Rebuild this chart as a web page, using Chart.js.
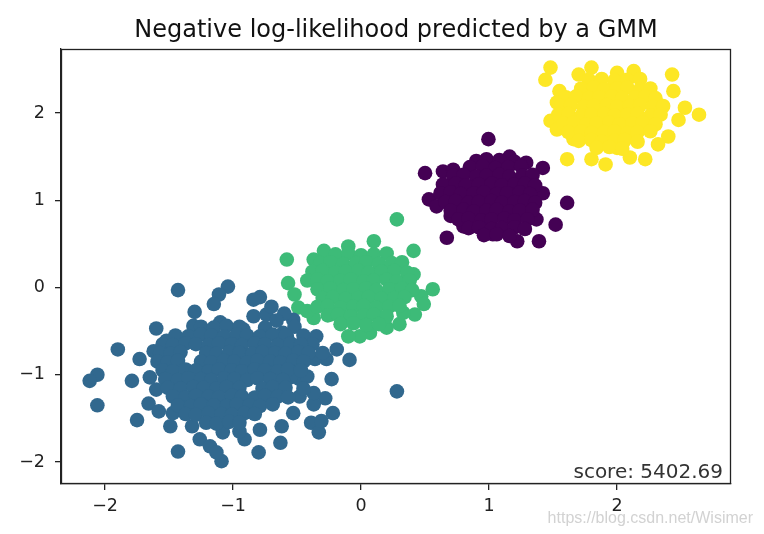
<!DOCTYPE html>
<html>
<head>
<meta charset="utf-8">
<script src="https://cdn.jsdelivr.net/npm/chart.js@4"></script>
<style>
  html, body { margin: 0; padding: 0; background: #fff; }
  #wrap { width: 764px; height: 534px; }
</style>
</head>
<body>
<div id="wrap"><canvas id="scatterChart" width="764" height="534"></canvas></div>
<script>
// values (x, y pairs per GMM component)
// outer points first, then the packed core of each blob row by row
const blueX = [-1.43, -1.04, -1.11, -1.15, -0.79, -0.84, -1.30, -0.74, -0.84, -1.60, -1.31, -1.10, -0.92, -0.61, -1.90, -1.73, -1.62, -1.52, -2.06, -2.12, -2.06, -1.79, -1.65, -1.75, -1.66, -1.58, -1.60, -1.49, -1.43, -1.32, -1.26, -1.18, -1.09, -1.13, -1.08, -0.91, -0.95, -0.80, -0.79, -0.63, -0.62, -0.53, -0.39, -0.33, -0.31, -0.22, -0.28, -0.37, -0.37, -0.48, -0.23, -0.09, -0.19, -0.27, -0.36, -0.42, -0.35, -0.58, -0.53, -0.48, -0.55, -0.42, -1.10, -1.17, -1.28, -1.47, -1.41, 0.28,
  -0.60, -0.52, -0.45, -0.38, -0.55, -0.30, -0.66, -0.70,
  -1.25, -1.15, -1.05, -0.95, -0.75,
  -1.45, -1.35, -1.25, -1.17, -1.07, -0.97, -0.89, -0.79, -0.69, -0.59,
  -1.55, -1.47, -1.37, -1.29, -1.19, -1.11, -1.01, -0.93, -0.83, -0.75, -0.65, -0.55, -0.47,
  -1.57, -1.49, -1.41, -1.21, -1.13, -1.03, -0.95, -0.85, -0.77, -0.67, -0.59, -0.49, -0.41,
  -1.59, -1.51, -1.43, -1.25, -1.17, -1.07, -0.99, -0.89, -0.81, -0.71, -0.63, -0.53, -0.45,
  -1.55, -1.47, -1.37, -1.29, -1.19, -1.11, -1.01, -0.93, -0.83, -0.75, -0.65, -0.57, -0.47,
  -1.53, -1.43, -1.35, -1.25, -1.17, -1.07, -0.99, -0.89, -0.81, -0.71, -0.61,
  -1.51, -1.41, -1.31, -1.23, -1.13, -1.05, -0.95, -0.77, -0.69, -0.59, -0.45,
  -1.47, -1.37, -1.29, -1.19, -1.11, -1.01, -0.93, -0.83, -0.75, -0.65, -0.57,
  -1.43, -1.33, -1.25, -1.15, -1.05, -0.97, -0.87, -0.79, -0.69,
  -1.37, -1.29, -1.19, -1.09, -1.01, -0.91, -0.83,
  -1.21, -1.13, -1.03, -0.95];
const blueY = [-0.03, 0.01, -0.08, -0.19, -0.11, -0.14, -0.28, -0.31, -0.33, -0.47, -0.44, -0.40, -0.48, -0.52, -0.71, -0.82, -0.73, -0.61, -1.00, -1.07, -1.35, -1.07, -1.03, -1.52, -1.33, -1.42, -1.17, -1.59, -1.88, -1.59, -1.74, -1.82, -1.99, -1.89, -1.66, -1.74, -1.65, -1.89, -1.63, -1.78, -1.59, -1.44, -1.55, -1.66, -1.53, -1.44, -1.27, -1.34, -1.21, -1.25, -1.05, -0.83, -0.71, -0.82, -0.82, -0.60, -0.56, -0.56, -0.37, -1.05, -1.03, -1.02, -1.51, -1.49, -1.36, -1.44, -1.34, -1.19,
  -0.30, -0.45, -0.55, -0.65, -0.65, -0.75, -0.38, -0.22,
  -0.45, -0.46, -0.44, -0.45, -0.46,
  -0.55, -0.56, -0.54, -0.55, -0.56, -0.54, -0.55, -0.56, -0.54, -0.55,
  -0.65, -0.66, -0.64, -0.65, -0.66, -0.64, -0.65, -0.66, -0.64, -0.65, -0.66, -0.64, -0.65,
  -0.75, -0.76, -0.74, -0.75, -0.76, -0.74, -0.75, -0.76, -0.74, -0.75, -0.76, -0.74, -0.75,
  -0.85, -0.86, -0.84, -0.85, -0.86, -0.84, -0.85, -0.86, -0.84, -0.85, -0.86, -0.84, -0.85,
  -0.95, -0.96, -0.94, -0.95, -0.96, -0.94, -0.95, -0.96, -0.94, -0.95, -0.96, -0.94, -0.95,
  -1.05, -1.06, -1.04, -1.05, -1.06, -1.04, -1.05, -1.06, -1.04, -1.05, -1.06,
  -1.15, -1.16, -1.14, -1.15, -1.16, -1.14, -1.15, -1.16, -1.14, -1.15, -1.16,
  -1.25, -1.26, -1.24, -1.25, -1.26, -1.24, -1.25, -1.26, -1.24, -1.25, -1.26,
  -1.35, -1.36, -1.34, -1.35, -1.36, -1.34, -1.35, -1.36, -1.34,
  -1.45, -1.46, -1.44, -1.45, -1.46, -1.44, -1.45,
  -1.55, -1.56, -1.54, -1.55];

const greenX = [0.28, -0.58, 0.10, -0.10, -0.29, 0.41, -0.37, -0.57, -0.52, -0.49, 0.41, 0.56, 0.47, 0.49, 0.42, 0.30, 0.20, 0.07, -0.01, -0.10, -0.37, -0.42, -0.24, 0.33,
  -0.20, -0.10, 0.00, 0.10, 0.20,
  -0.32, -0.24, -0.14, -0.04, 0.04, 0.14, 0.24, 0.32,
  -0.38, -0.30, -0.20, -0.12, -0.02, 0.06, 0.16, 0.26, 0.36,
  -0.42, -0.34, -0.26, -0.16, -0.08, 0.02, 0.10, 0.20, 0.28, 0.38,
  -0.34, -0.24, -0.14, -0.06, 0.04, 0.12, 0.22, 0.32, 0.40,
  -0.30, -0.22, -0.12, -0.02, 0.06, 0.16, 0.26, 0.34,
  -0.34, -0.26, -0.16, -0.06, 0.02, 0.12, 0.22, 0.30,
  -0.26, -0.18, -0.08, 0.02, 0.10, 0.20,
  -0.16, -0.06, 0.04, 0.14];
const greenY = [0.78, 0.32, 0.53, 0.47, 0.42, 0.42, 0.32, 0.05, -0.08, -0.23, 0.15, -0.02, -0.10, -0.19, -0.31, -0.42, -0.46, -0.52, -0.56, -0.56, -0.35, -0.27, -0.31, -0.29,
  0.38, 0.39, 0.37, 0.38, 0.39,
  0.28, 0.29, 0.27, 0.28, 0.29, 0.27, 0.28, 0.29,
  0.18, 0.19, 0.17, 0.18, 0.19, 0.17, 0.18, 0.19, 0.17,
  0.08, 0.09, 0.07, 0.08, 0.09, 0.07, 0.08, 0.09, 0.07, 0.08,
  -0.02, -0.01, -0.03, -0.02, -0.01, -0.03, -0.02, -0.01, -0.03,
  -0.12, -0.11, -0.13, -0.12, -0.11, -0.13, -0.12, -0.11,
  -0.22, -0.21, -0.23, -0.22, -0.21, -0.23, -0.22, -0.21,
  -0.32, -0.31, -0.33, -0.32, -0.31, -0.33,
  -0.42, -0.41, -0.43, -0.42];

const purpleX = [0.995, 0.50, 0.64, 0.72, 1.42, 1.29, 1.16, 0.98, 0.53, 0.59, 1.61, 1.42, 1.52, 1.37, 1.39, 1.22, 0.67, 0.80, 1.03, 0.70,
  0.90, 1.08, 1.20,
  0.85, 0.95, 1.05, 1.15, 1.25,
  0.72, 0.80, 0.90, 0.98, 1.08, 1.16, 1.26, 1.34,
  0.64, 0.74, 0.82, 0.92, 1.02, 1.10, 1.20, 1.28, 1.36,
  0.62, 0.70, 0.78, 0.88, 0.96, 1.06, 1.14, 1.24, 1.32,
  0.66, 0.74, 0.84, 0.92, 1.02, 1.10, 1.20, 1.28, 1.36,
  0.70, 0.80, 0.88, 0.98, 1.06, 1.16, 1.24, 1.34,
  0.76, 0.84, 0.94, 1.02, 1.12, 1.20, 1.30,
  0.84, 0.92, 1.02, 1.10, 1.20, 1.28,
  0.96, 1.06, 1.16];
const purpleY = [1.70, 1.31, 1.33, 1.35, 1.37, 1.43, 1.50, 1.47, 1.01, 0.93, 0.97, 1.08, 0.72, 0.78, 0.53, 0.53, 0.57, 0.70, 0.61, 0.82,
  1.45, 1.46, 1.44,
  1.38, 1.39, 1.37, 1.38, 1.39,
  1.28, 1.29, 1.27, 1.28, 1.29, 1.27, 1.28, 1.29,
  1.18, 1.19, 1.17, 1.18, 1.19, 1.17, 1.18, 1.19, 1.17,
  1.08, 1.09, 1.07, 1.08, 1.09, 1.07, 1.08, 1.09, 1.07,
  0.98, 0.99, 0.97, 0.98, 0.99, 0.97, 0.98, 0.99, 0.97,
  0.88, 0.89, 0.87, 0.88, 0.89, 0.87, 0.88, 0.89,
  0.78, 0.79, 0.77, 0.78, 0.79, 0.77, 0.78,
  0.68, 0.69, 0.67, 0.68, 0.69, 0.67,
  0.60, 0.61, 0.59];

const yellowX = [1.48, 1.44, 1.80, 1.70, 2.00, 2.13, 2.43, 2.44, 1.55, 1.53, 1.48, 2.64, 2.53, 2.48, 2.40, 2.32, 2.22, 2.10, 1.91, 1.80, 1.61, 1.53, 1.66, 1.84, 2.00,
  1.78, 1.88, 1.98, 2.08, 2.18,
  1.72, 1.82, 1.90, 2.00, 2.08, 2.18, 2.26,
  1.60, 1.68, 1.78, 1.86, 1.96, 2.04, 2.14, 2.22, 2.30,
  1.56, 1.64, 1.74, 1.82, 1.92, 2.00, 2.10, 2.18, 2.28, 2.36,
  1.54, 1.62, 1.72, 1.80, 1.90, 1.98, 2.08, 2.16, 2.26, 2.34,
  1.58, 1.66, 1.76, 1.84, 1.94, 2.02, 2.12, 2.20, 2.30,
  1.62, 1.72, 1.80, 1.90, 1.98, 2.08, 2.16, 2.26,
  1.70, 1.80, 1.88, 1.98, 2.06, 2.16,
  1.84, 1.94, 2.04];
const yellowY = [2.52, 2.38, 2.52, 2.44, 2.46, 2.48, 2.44, 2.25, 2.25, 2.12, 1.91, 1.98, 2.06, 1.92, 1.73, 1.64, 1.47, 1.49, 1.41, 1.47, 1.47, 1.81, 1.70, 1.64, 1.60,
  2.38, 2.39, 2.37, 2.38, 2.39,
  2.28, 2.29, 2.27, 2.28, 2.29, 2.27, 2.28,
  2.18, 2.19, 2.17, 2.18, 2.19, 2.17, 2.18, 2.19, 2.17,
  2.08, 2.09, 2.07, 2.08, 2.09, 2.07, 2.08, 2.09, 2.07, 2.08,
  1.98, 1.99, 1.97, 1.98, 1.99, 1.97, 1.98, 1.99, 1.97, 1.98,
  1.88, 1.89, 1.87, 1.88, 1.89, 1.87, 1.88, 1.89, 1.87,
  1.78, 1.79, 1.77, 1.78, 1.79, 1.77, 1.78, 1.79,
  1.68, 1.69, 1.67, 1.68, 1.69, 1.67,
  1.60, 1.61, 1.59];

const xTicks = [-2, -1, 0, 1, 2];
const yTicks = [-2, -1, 0, 1, 2];
const chartTitle = 'Negative log-likelihood predicted by a GMM';
const scoreText = 'score: 5402.69';
const watermark = 'https://blog.csdn.net/Wisimer';

function toPoints(xs, ys) {
    return xs.map((x, i) => ({ x: x, y: ys[i] }));
}

const FONT = '"DejaVu Sans", sans-serif';

// title, frame, score and watermark
const decor = {
    id: 'decor',
    afterDraw(chart) {
        const { ctx, chartArea: a } = chart;
        ctx.save();
        ctx.strokeStyle = '#222';
        ctx.lineWidth = 1.3;
        ctx.strokeRect(a.left + 0.5, a.top + 0.5, a.right - a.left - 1, a.bottom - a.top - 1);

        ctx.fillStyle = '#111';
        ctx.font = '24px ' + FONT;
        ctx.textAlign = 'center';
        ctx.textBaseline = 'alphabetic';
        ctx.fillText(chartTitle, (a.left + a.right) / 2, 37);

        ctx.fillStyle = '#333';
        ctx.font = '20px ' + FONT;
        ctx.textAlign = 'right';
        ctx.fillText(scoreText, a.right - 8, a.bottom - 6);

        ctx.fillStyle = '#d2d2d2';
        ctx.font = '16px "Liberation Sans", Arial, sans-serif';
        ctx.fillText(watermark, 753, 523);
        ctx.restore();
    }
};

const tickFmt = v => (v < 0 ? '\u2212' + Math.abs(v) : String(v));

const ctx = document.getElementById('scatterChart').getContext('2d');
const scatterChart = new Chart(ctx, {
    type: 'scatter',
    data: {
        datasets: [
            { data: toPoints(purpleX, purpleY), backgroundColor: '#440154' },
            { data: toPoints(yellowX, yellowY), backgroundColor: '#fde725' },
            { data: toPoints(blueX, blueY), backgroundColor: '#31688e' },
            { data: toPoints(greenX, greenY), backgroundColor: '#3dbb78' }
        ]
    },
    options: {
        responsive: false,
        animation: false,
        layout: { padding: { top: 49, right: 33, left: 0, bottom: 0 } },
        elements: { point: { radius: 7.3, borderWidth: 0, hoverRadius: 7.3 } },
        plugins: { legend: { display: false }, tooltip: { enabled: false } },
        scales: {
            x: {
                type: 'linear',
                min: -2.344,
                max: 2.89,
                afterFit(scale) { scale.height = 50; },
                afterBuildTicks(scale) { scale.ticks = xTicks.map(v => ({ value: v })); },
                border: { display: true, color: '#222', width: 1.3 },
                grid: { display: true, drawOnChartArea: false, drawTicks: true, tickLength: 6, color: '#222', lineWidth: 1.3 },
                ticks: { color: '#222', font: { family: FONT, size: 17.5 }, padding: 6, maxRotation: 0, callback: tickFmt }
            },
            y: {
                type: 'linear',
                min: -2.252,
                max: 2.733,
                afterFit(scale) { scale.width = 61; },
                afterBuildTicks(scale) { scale.ticks = yTicks.map(v => ({ value: v })); },
                border: { display: true, color: '#222', width: 1.3 },
                grid: { display: true, drawOnChartArea: false, drawTicks: true, tickLength: 6, color: '#222', lineWidth: 1.3 },
                ticks: { color: '#222', font: { family: FONT, size: 17.5 }, padding: 10, callback: tickFmt }
            }
        }
    },
    plugins: [decor]
});
</script>
</body>
</html>
